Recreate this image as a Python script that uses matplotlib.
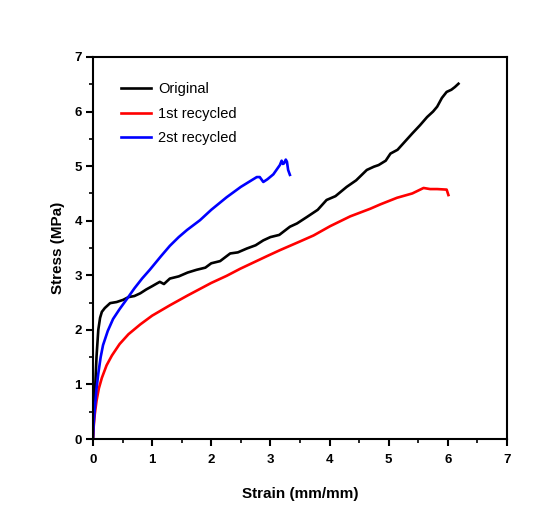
import matplotlib
matplotlib.use("Agg")
import matplotlib.pyplot as plt
from matplotlib.ticker import MultipleLocator

# stress-strain curves
orig_x = [0, 0.01, 0.03, 0.06, 0.09, 0.12, 0.15, 0.2, 0.29, 0.4, 0.51, 0.6, 0.7, 0.8, 0.9,
          1.0, 1.08, 1.13, 1.2, 1.3, 1.45, 1.6, 1.75, 1.9, 2.0, 2.15, 2.32, 2.45, 2.6,
          2.75, 2.88, 3.0, 3.15, 3.33, 3.45, 3.62, 3.8, 3.95, 4.1, 4.29, 4.45, 4.63,
          4.75, 4.83, 4.95, 5.03, 5.15, 5.25, 5.4, 5.53, 5.65, 5.75, 5.82, 5.9, 5.98,
          6.06, 6.12, 6.18]
orig_y = [0, 0.35, 0.77, 1.51, 2.0, 2.22, 2.33, 2.4, 2.49, 2.51, 2.55, 2.6, 2.62, 2.67, 2.74,
          2.8, 2.85, 2.88, 2.84, 2.94, 2.98, 3.05, 3.1, 3.14, 3.22, 3.26, 3.4, 3.42, 3.49,
          3.55, 3.64, 3.7, 3.74, 3.89, 3.95, 4.07, 4.2, 4.38, 4.45, 4.62, 4.74, 4.93,
          4.99, 5.02, 5.1, 5.23, 5.3, 5.42, 5.6, 5.75, 5.9, 6.0, 6.09, 6.25, 6.36,
          6.4, 6.45, 6.51]

rec1_x = [0, 0.01, 0.03, 0.06, 0.1, 0.15, 0.23, 0.32, 0.45, 0.6, 0.8, 1.0, 1.3, 1.6,
          2.0, 2.26, 2.49, 2.94, 3.16, 3.5, 3.73, 4.01, 4.35, 4.69, 4.86, 5.14, 5.4,
          5.59, 5.7, 5.82, 5.98, 6.01]
rec1_y = [0, 0.2, 0.45, 0.7, 0.93, 1.12, 1.35, 1.53, 1.74, 1.92, 2.1, 2.26, 2.45, 2.63,
          2.86, 2.99, 3.12, 3.35, 3.46, 3.62, 3.73, 3.9, 4.08, 4.22, 4.3, 4.42, 4.5,
          4.6, 4.58, 4.58, 4.57, 4.47]

rec2_x = [0, 0.01, 0.03, 0.06, 0.09, 0.13, 0.17, 0.25, 0.34, 0.45, 0.57, 0.7, 0.83,
          0.96, 1.15, 1.3, 1.45, 1.59, 1.81, 2.0, 2.26, 2.5, 2.65, 2.77, 2.82, 2.88,
          2.95, 3.05, 3.16, 3.19, 3.21, 3.23, 3.26, 3.28, 3.3, 3.33]
rec2_y = [0, 0.25, 0.55, 0.92, 1.2, 1.5, 1.72, 1.98, 2.2, 2.38, 2.56, 2.76, 2.94,
          3.1, 3.35, 3.54, 3.7, 3.83, 4.01, 4.2, 4.43, 4.62, 4.72, 4.8, 4.8, 4.71,
          4.76, 4.85, 5.02, 5.1, 5.04, 5.05, 5.12, 5.08, 4.93, 4.84]

series = [("Original", orig_x, orig_y, "#000000"),
          ("1st recycled", rec1_x, rec1_y, "#ff0000"),
          ("2st recycled", rec2_x, rec2_y, "#0000ff")]

plt.rcParams["font.family"] = ["Liberation Sans", "DejaVu Sans"]

fig = plt.figure(figsize=(5.45, 5.08), dpi=100)
ax = fig.add_axes([0.1706, 0.1358, 0.7596, 0.752])

for name, xs, ys, col in series:
    ax.plot(xs, ys, color=col, lw=1.9, label=name, solid_joinstyle="round")

ax.set_xlim(0, 7)
ax.set_ylim(0, 7)
ax.xaxis.set_major_locator(MultipleLocator(1))
ax.xaxis.set_minor_locator(MultipleLocator(0.5))
ax.yaxis.set_major_locator(MultipleLocator(1))
ax.yaxis.set_minor_locator(MultipleLocator(0.5))
ax.tick_params(which="major", direction="out", length=5, width=1.5, labelsize=9.5, pad=3)
ax.tick_params(which="minor", direction="out", length=3, width=1.2)
ax.tick_params(axis="x", which="major", pad=6)
for lab in ax.get_xticklabels() + ax.get_yticklabels():
    lab.set_fontweight("bold")
for sp in ax.spines.values():
    sp.set_linewidth(1.5)

ax.set_xlabel("Strain (mm/mm)", fontsize=11, fontweight="bold", labelpad=15)
ax.set_ylabel("Stress (MPa)", fontsize=11, fontweight="bold", labelpad=7)

ax.legend(loc="upper left", frameon=False, fontsize=10.5, handlelength=2.1,
          handletextpad=0.45, labelspacing=0.72, bbox_to_anchor=(0.035, 0.968))

fig.savefig("out.png", dpi=100)
